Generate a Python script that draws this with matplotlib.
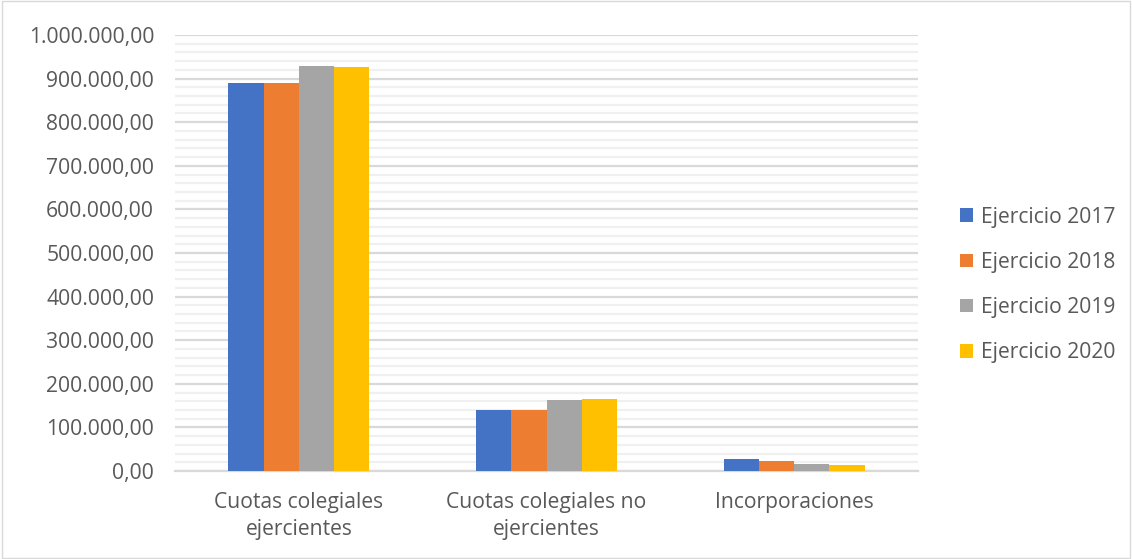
import matplotlib
matplotlib.use("Agg")
import matplotlib.pyplot as plt
import numpy as np
from matplotlib.ticker import FuncFormatter, MultipleLocator
from matplotlib.patches import Rectangle

categories = ["Cuotas colegiales\nejercientes", "Cuotas colegiales no\nejercientes", "Incorporaciones"]
series_names = ["Ejercicio 2017", "Ejercicio 2018", "Ejercicio 2019", "Ejercicio 2020"]
v2017 = [891000, 139000, 28000]
v2018 = [891000, 139000, 22000]
v2019 = [929000, 163000, 16000]
v2020 = [926000, 166000, 13000]
colors = ["#4472C4", "#ED7D31", "#A5A5A5", "#FFC000"]

plt.rcParams['font.family'] = ['Open Sans', 'DejaVu Sans']
txt = "#595959"
fs = 15.2

fig = plt.figure(figsize=(11.32, 5.59), dpi=100)
ax = fig.add_axes([175/1132, 1-471/559, 743/1132, 436/559])

x = np.arange(len(categories))
w = 0.142
allv = [v2017, v2018, v2019, v2020]
for i, (vals, c, name) in enumerate(zip(allv, colors, series_names)):
    ax.bar(x + (i - 1.5) * w, vals, width=w, color=c, label=name, zorder=3)

ax.set_xlim(-0.5, 2.5)
ax.set_ylim(0, 1000000)
ax.yaxis.set_major_locator(MultipleLocator(100000))
ax.yaxis.set_minor_locator(MultipleLocator(20000))

def fmt(v, pos):
    s = f"{v:,.2f}"
    return s.replace(",", "X").replace(".", ",").replace("X", ".")
ax.yaxis.set_major_formatter(FuncFormatter(fmt))

ax.grid(which='major', axis='y', color='#D9D9D9', linewidth=1.6, zorder=0)
ax.grid(which='minor', axis='y', color='#F0F0F0', linewidth=1.6, zorder=0)
for s in ['top', 'right', 'left']:
    ax.spines[s].set_visible(False)
ax.spines['bottom'].set_color('#D9D9D9')
ax.spines['bottom'].set_linewidth(1.6)
ax.tick_params(axis='both', which='both', length=0, colors=txt, labelsize=fs)
ax.tick_params(axis='y', pad=15)
ax.tick_params(axis='x', pad=15)
ax.set_xticks(x)
ax.set_xticklabels(categories, linespacing=1.4)

leg = fig.legend(loc='center left', bbox_to_anchor=(941/1132, 1-285/559), frameon=False,
                 fontsize=fs, labelspacing=1.15, handlelength=0.6, handleheight=0.6,
                 handletextpad=0.4, labelcolor=txt)

fig.patches.append(Rectangle((0.002, 0.002), 0.996, 0.996, transform=fig.transFigure,
                             fill=False, edgecolor='#D9D9D9', linewidth=1))
fig.savefig("out.png", dpi=100)
